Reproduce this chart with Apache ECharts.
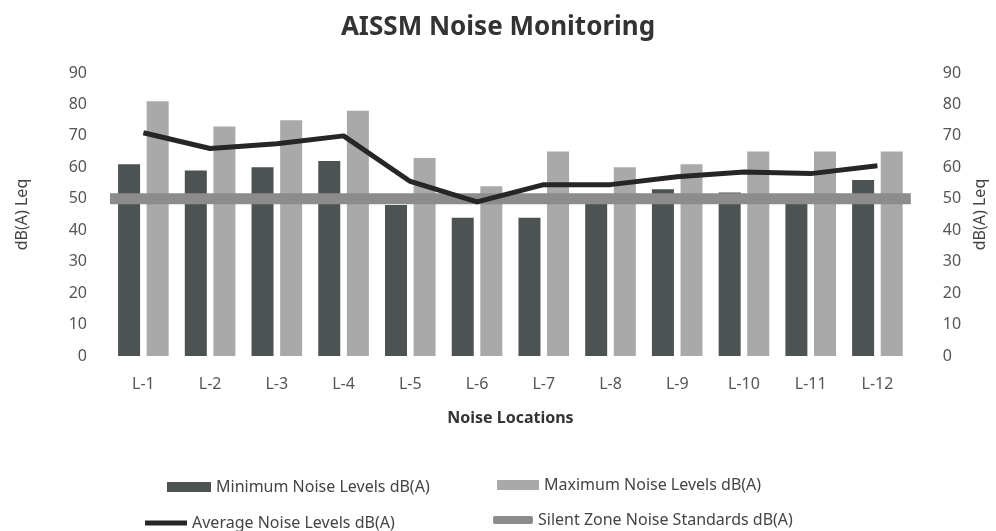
<!DOCTYPE html>
<html>
<head>
<meta charset="utf-8">
<script src="https://cdn.jsdelivr.net/npm/echarts@6/dist/echarts.min.js"></script>
<style>
  html, body { margin: 0; padding: 0; background: #ffffff; }
  #chart { width: 996px; height: 531px; }
</style>
</head>
<body>
<div id="chart"></div>
<script>
// Monitoring locations
const locations = ['L-1', 'L-2', 'L-3', 'L-4', 'L-5', 'L-6', 'L-7', 'L-8', 'L-9', 'L-10', 'L-11', 'L-12'];
// Measured levels, dB(A) Leq
const minLevels = [61, 59, 60, 62, 48, 44, 44, 49, 53, 52, 51, 56];
const maxLevels = [81, 73, 75, 78, 63, 54, 65, 60, 61, 65, 65, 65];
const avgLevels = [71, 66, 67.5, 70, 55.5, 49, 54.5, 54.5, 57, 58.5, 58, 60.5];
// Silent zone standard, dB(A)
const silentZoneStd = [50, 50, 50, 50, 50, 50, 50, 50, 50, 50, 50, 50];

const FONT = 'Noto Sans';
const chart = echarts.init(document.getElementById('chart'));

const axisLabelStyle = { color: '#555', fontSize: 16, fontFamily: FONT };
const legendText = { fontFamily: FONT, fontSize: 16, color: '#444' };

chart.setOption({
  backgroundColor: '#ffffff',
  title: {
    text: 'AISSM Noise Monitoring',
    left: 'center',
    top: 10,
    textStyle: { fontFamily: FONT, fontSize: 26, fontWeight: 'bold', color: '#333' }
  },
  grid: { left: 110, right: 80, top: 73, bottom: 175 },
  legend: [
    { data: [{ name: 'Minimum Noise Levels dB(A)', icon: 'rect' }], left: 162, top: 474,
      itemWidth: 44, itemHeight: 10, itemGap: 4, textStyle: legendText },
    { data: [{ name: 'Maximum Noise Levels dB(A)', icon: 'rect' }], left: 492, top: 472,
      itemWidth: 42, itemHeight: 10, textStyle: legendText },
    { data: [{ name: 'Average Noise Levels dB(A)', icon: 'rect' }], left: 140, top: 510,
      itemWidth: 42, itemHeight: 5, textStyle: legendText },
    { data: [{ name: 'Silent Zone Noise Standards dB(A)', icon: 'roundRect' }], left: 488, top: 507,
      itemWidth: 40, itemHeight: 8, textStyle: legendText }
  ],
  xAxis: [
    {
      type: 'category',
      data: locations,
      name: 'Noise Locations',
      nameLocation: 'middle',
      nameGap: 54,
      nameTextStyle: { fontFamily: FONT, fontSize: 16, fontWeight: 'bold', color: '#333' },
      axisLine: { show: false },
      axisTick: { show: false },
      axisLabel: Object.assign({ margin: 20 }, axisLabelStyle)
    },
    {
      // spans the full plot width for the reference line
      type: 'category',
      data: locations,
      boundaryGap: false,
      show: false,
      position: 'bottom'
    }
  ],
  yAxis: [
    {
      type: 'value',
      min: 0, max: 90, interval: 10,
      name: 'dB(A) Leq',
      nameLocation: 'middle',
      nameGap: 80,
      nameTextStyle: { fontFamily: FONT, fontSize: 16, color: '#444' },
      splitLine: { show: false },
      axisLine: { show: false },
      axisTick: { show: false },
      axisLabel: Object.assign({ margin: 23 }, axisLabelStyle)
    },
    {
      type: 'value',
      position: 'right',
      min: 0, max: 90, interval: 10,
      name: 'dB(A) Leq',
      nameLocation: 'middle',
      nameGap: 60,
      nameTextStyle: { fontFamily: FONT, fontSize: 16, color: '#444' },
      splitLine: { show: false },
      axisLine: { show: false },
      axisTick: { show: false },
      axisLabel: Object.assign({ margin: 32 }, axisLabelStyle)
    }
  ],
  series: [
    {
      name: 'Minimum Noise Levels dB(A)',
      type: 'bar',
      data: minLevels,
      barWidth: 22,
      barGap: '30%',
      itemStyle: { color: '#4d5352' }
    },
    {
      name: 'Maximum Noise Levels dB(A)',
      type: 'bar',
      data: maxLevels,
      barWidth: 22,
      barGap: '30%',
      itemStyle: { color: '#a9a9a9' }
    },
    {
      name: 'Silent Zone Noise Standards dB(A)',
      type: 'line',
      xAxisIndex: 1,
      data: silentZoneStd,
      symbol: 'none',
      lineStyle: { color: '#8c8c8c', width: 11 },
      itemStyle: { color: '#8c8c8c' },
      z: 3
    },
    {
      name: 'Average Noise Levels dB(A)',
      type: 'line',
      data: avgLevels,
      symbol: 'none',
      lineStyle: { color: '#262626', width: 5 },
      itemStyle: { color: '#262626' },
      z: 4
    }
  ]
});
</script>
</body>
</html>
